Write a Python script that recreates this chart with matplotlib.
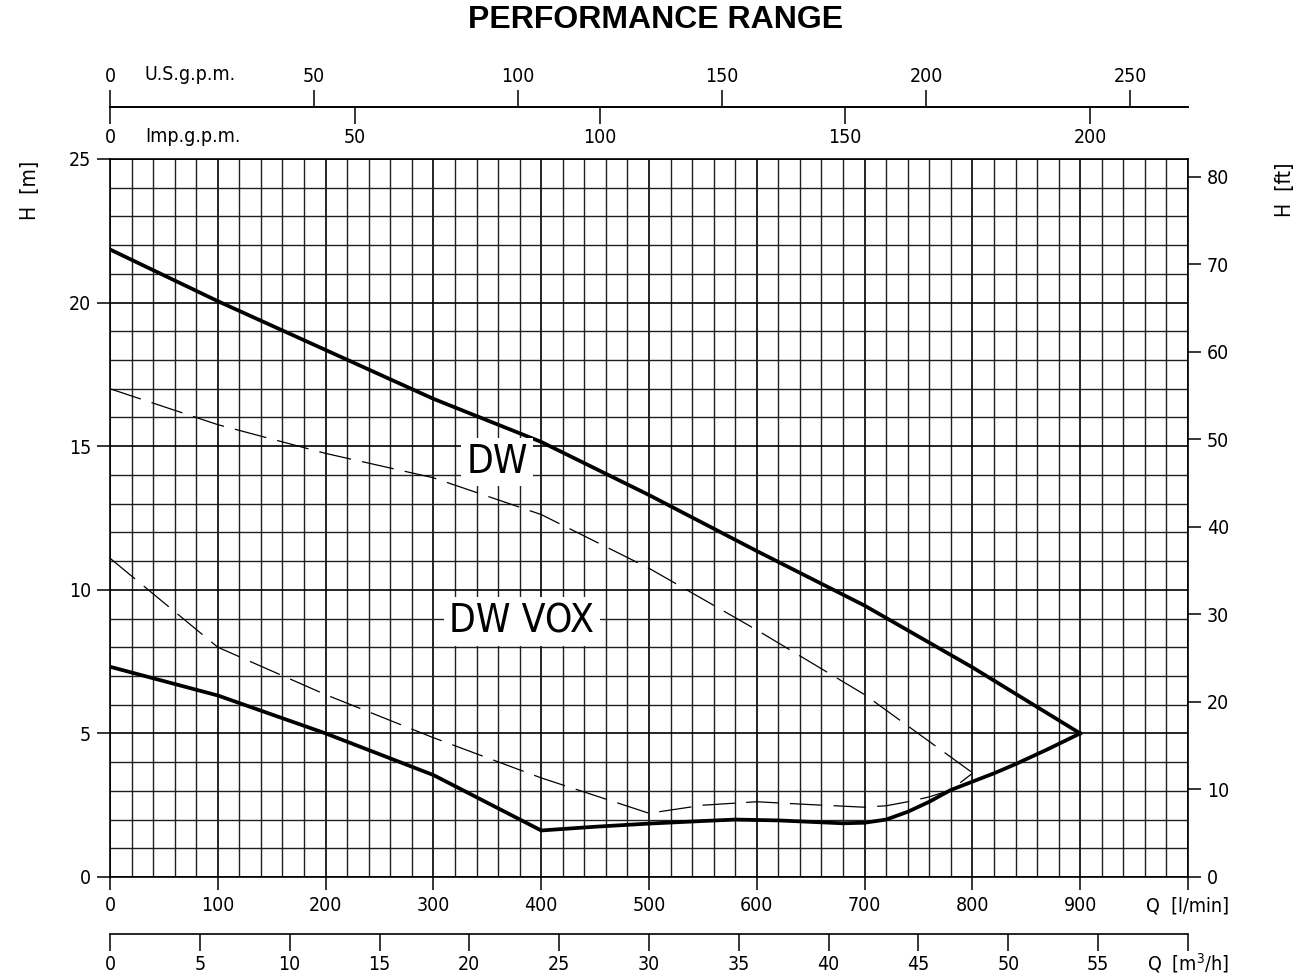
import matplotlib.pyplot as plt

plt.rcParams['font.family'] = ['DejaVu Sans']
plt.rcParams['font.stretch'] = 'condensed'

# DW curves (solid), Q in l/min, H in m
q_dw_max = [0, 100, 200, 300, 400, 500, 600, 700, 800, 900]
h_dw_max = [21.85, 20.05, 18.35, 16.65, 15.15, 13.3, 11.35, 9.45, 7.3, 5.0]

q_dw_min = [0, 100, 200, 300, 400, 450, 500, 550, 580, 620, 650, 680, 700,
            720, 740, 760, 780, 800, 820, 840, 870, 900]
h_dw_min = [7.32, 6.32, 5.0, 3.55, 1.62, 1.75, 1.86, 1.95, 2.0, 1.97, 1.92,
            1.87, 1.89, 2.0, 2.27, 2.62, 3.03, 3.32, 3.61, 3.93, 4.45, 5.0]

# DW VOX curves (dashed)
q_vox_max = [0, 100, 200, 300, 400, 500, 600, 700, 800]
h_vox_max = [17.0, 15.75, 14.75, 13.9, 12.62, 10.75, 8.6, 6.35, 3.63]

q_vox_min = [0, 100, 200, 300, 400, 500, 550, 600, 650, 700, 720, 740, 760,
             780, 800]
h_vox_min = [11.1, 8.0, 6.35, 4.85, 3.45, 2.22, 2.5, 2.62, 2.52, 2.43, 2.48,
             2.62, 2.79, 3.03, 3.61]

# unit conversions
LPM_PER_USGPM = 3.78541
LPM_PER_IMPGPM = 4.54609
LPM_PER_M3H = 1000 / 60
M_PER_FT = 0.3048

W, H = 1312, 977
fig = plt.figure(figsize=(W / 100, H / 100), dpi=100)
L, B, AW, AH = 110 / W, 100 / H, 1078 / W, 718 / H
ax = fig.add_axes([L, B, AW, AH])

ax.set_xlim(0, 1000)
ax.set_ylim(0, 25)
ax.set_xticks(range(0, 1001, 100))
ax.set_xticklabels([str(v) for v in range(0, 901, 100)] + [''])
ax.set_xticks(range(0, 1001, 20), minor=True)
ax.set_yticks(range(0, 26, 5))
ax.set_yticks(range(0, 26, 1), minor=True)
ax.grid(which='major', color='black', lw=1.2)
ax.grid(which='minor', color='#202020', lw=1.0)
ax.set_axisbelow(True)
ax.tick_params(which='major', length=9.5, width=1.1, labelsize=14, pad=4)
ax.tick_params(which='minor', length=0)
for s in ax.spines.values():
    s.set_linewidth(1.2)

ax.plot(q_dw_max, h_dw_max, color='black', lw=2.7, solid_joinstyle='round')
ax.plot(q_dw_min, h_dw_min, color='black', lw=2.7, solid_joinstyle='round')
ax.plot(q_vox_max, h_vox_max, color='black', lw=0.9, dashes=(26, 9))
ax.plot(q_vox_min, h_vox_min, color='black', lw=0.9, dashes=(26, 9))

box = dict(facecolor='white', edgecolor='none', pad=4)
ax.text(359, 14.45, 'DW', fontsize=28, ha='center', va='center', bbox=box)
ax.text(382, 8.9, 'DW VOX', fontsize=28, ha='center', va='center', bbox=box)

# right axis in feet
ax2 = ax.twinx()
ax2.set_ylim(0, 25 / M_PER_FT)
ax2.set_yticks(range(0, 81, 10))
ax2.tick_params(length=9.5, width=1.1, labelsize=14, pad=4)
for s in ax2.spines.values():
    s.set_visible(False)


def scale_axis(ypos, xmax, ticks, labels, side):
    a = fig.add_axes([L, ypos, AW, 1e-6])
    a.patch.set_visible(False)
    a.set_xlim(0, xmax)
    a.set_yticks([])
    for k, s in a.spines.items():
        s.set_visible(k == side)
        s.set_linewidth(1.2)
    a.set_xticks(ticks)
    a.set_xticklabels(labels)
    a.xaxis.set_ticks_position(side)
    a.xaxis.set_label_position(side)
    a.tick_params(length=12, width=1.1, labelsize=14, pad=3)
    return a


top_y = (H - 107) / H
us_ticks = list(range(0, 251, 50))
imp_ticks = list(range(0, 201, 50))
scale_axis(top_y, 1000 / LPM_PER_USGPM, us_ticks, [str(v) for v in us_ticks], 'top')
scale_axis(top_y, 1000 / LPM_PER_IMPGPM, imp_ticks, [str(v) for v in imp_ticks], 'bottom')

m3_ticks = list(range(0, 61, 5))
scale_axis((H - 934) / H, 1000 / LPM_PER_M3H, m3_ticks,
           [str(v) for v in m3_ticks[:-1]] + [''], 'bottom')

# labels
fig.text(0.5, 1 - 20 / H, 'PERFORMANCE RANGE', ha='center', va='center',
         fontsize=23, fontweight='bold', fontstretch='normal',
         family=['Liberation Sans', 'DejaVu Sans'])
fig.text(145 / W, 1 - 75 / H, 'U.S.g.p.m.', ha='left', va='center', fontsize=14)
fig.text(145 / W, 1 - 137 / H, 'Imp.g.p.m.', ha='left', va='center', fontsize=14)
fig.text(1188 / W, 1 - 906 / H, 'Q  [l/min]', ha='center', va='center', fontsize=14)
fig.text(1188 / W, 1 - 963 / H, 'Q  [m$^3$/h]', ha='center', va='center', fontsize=14)
fig.text(30 / W, 1 - 190 / H, 'H  [m]', ha='center', va='center', fontsize=15, rotation=90)
fig.text(1285 / W, 1 - 190 / H, 'H  [ft]', ha='center', va='center', fontsize=15, rotation=90)

fig.savefig('out.png', dpi=100)
